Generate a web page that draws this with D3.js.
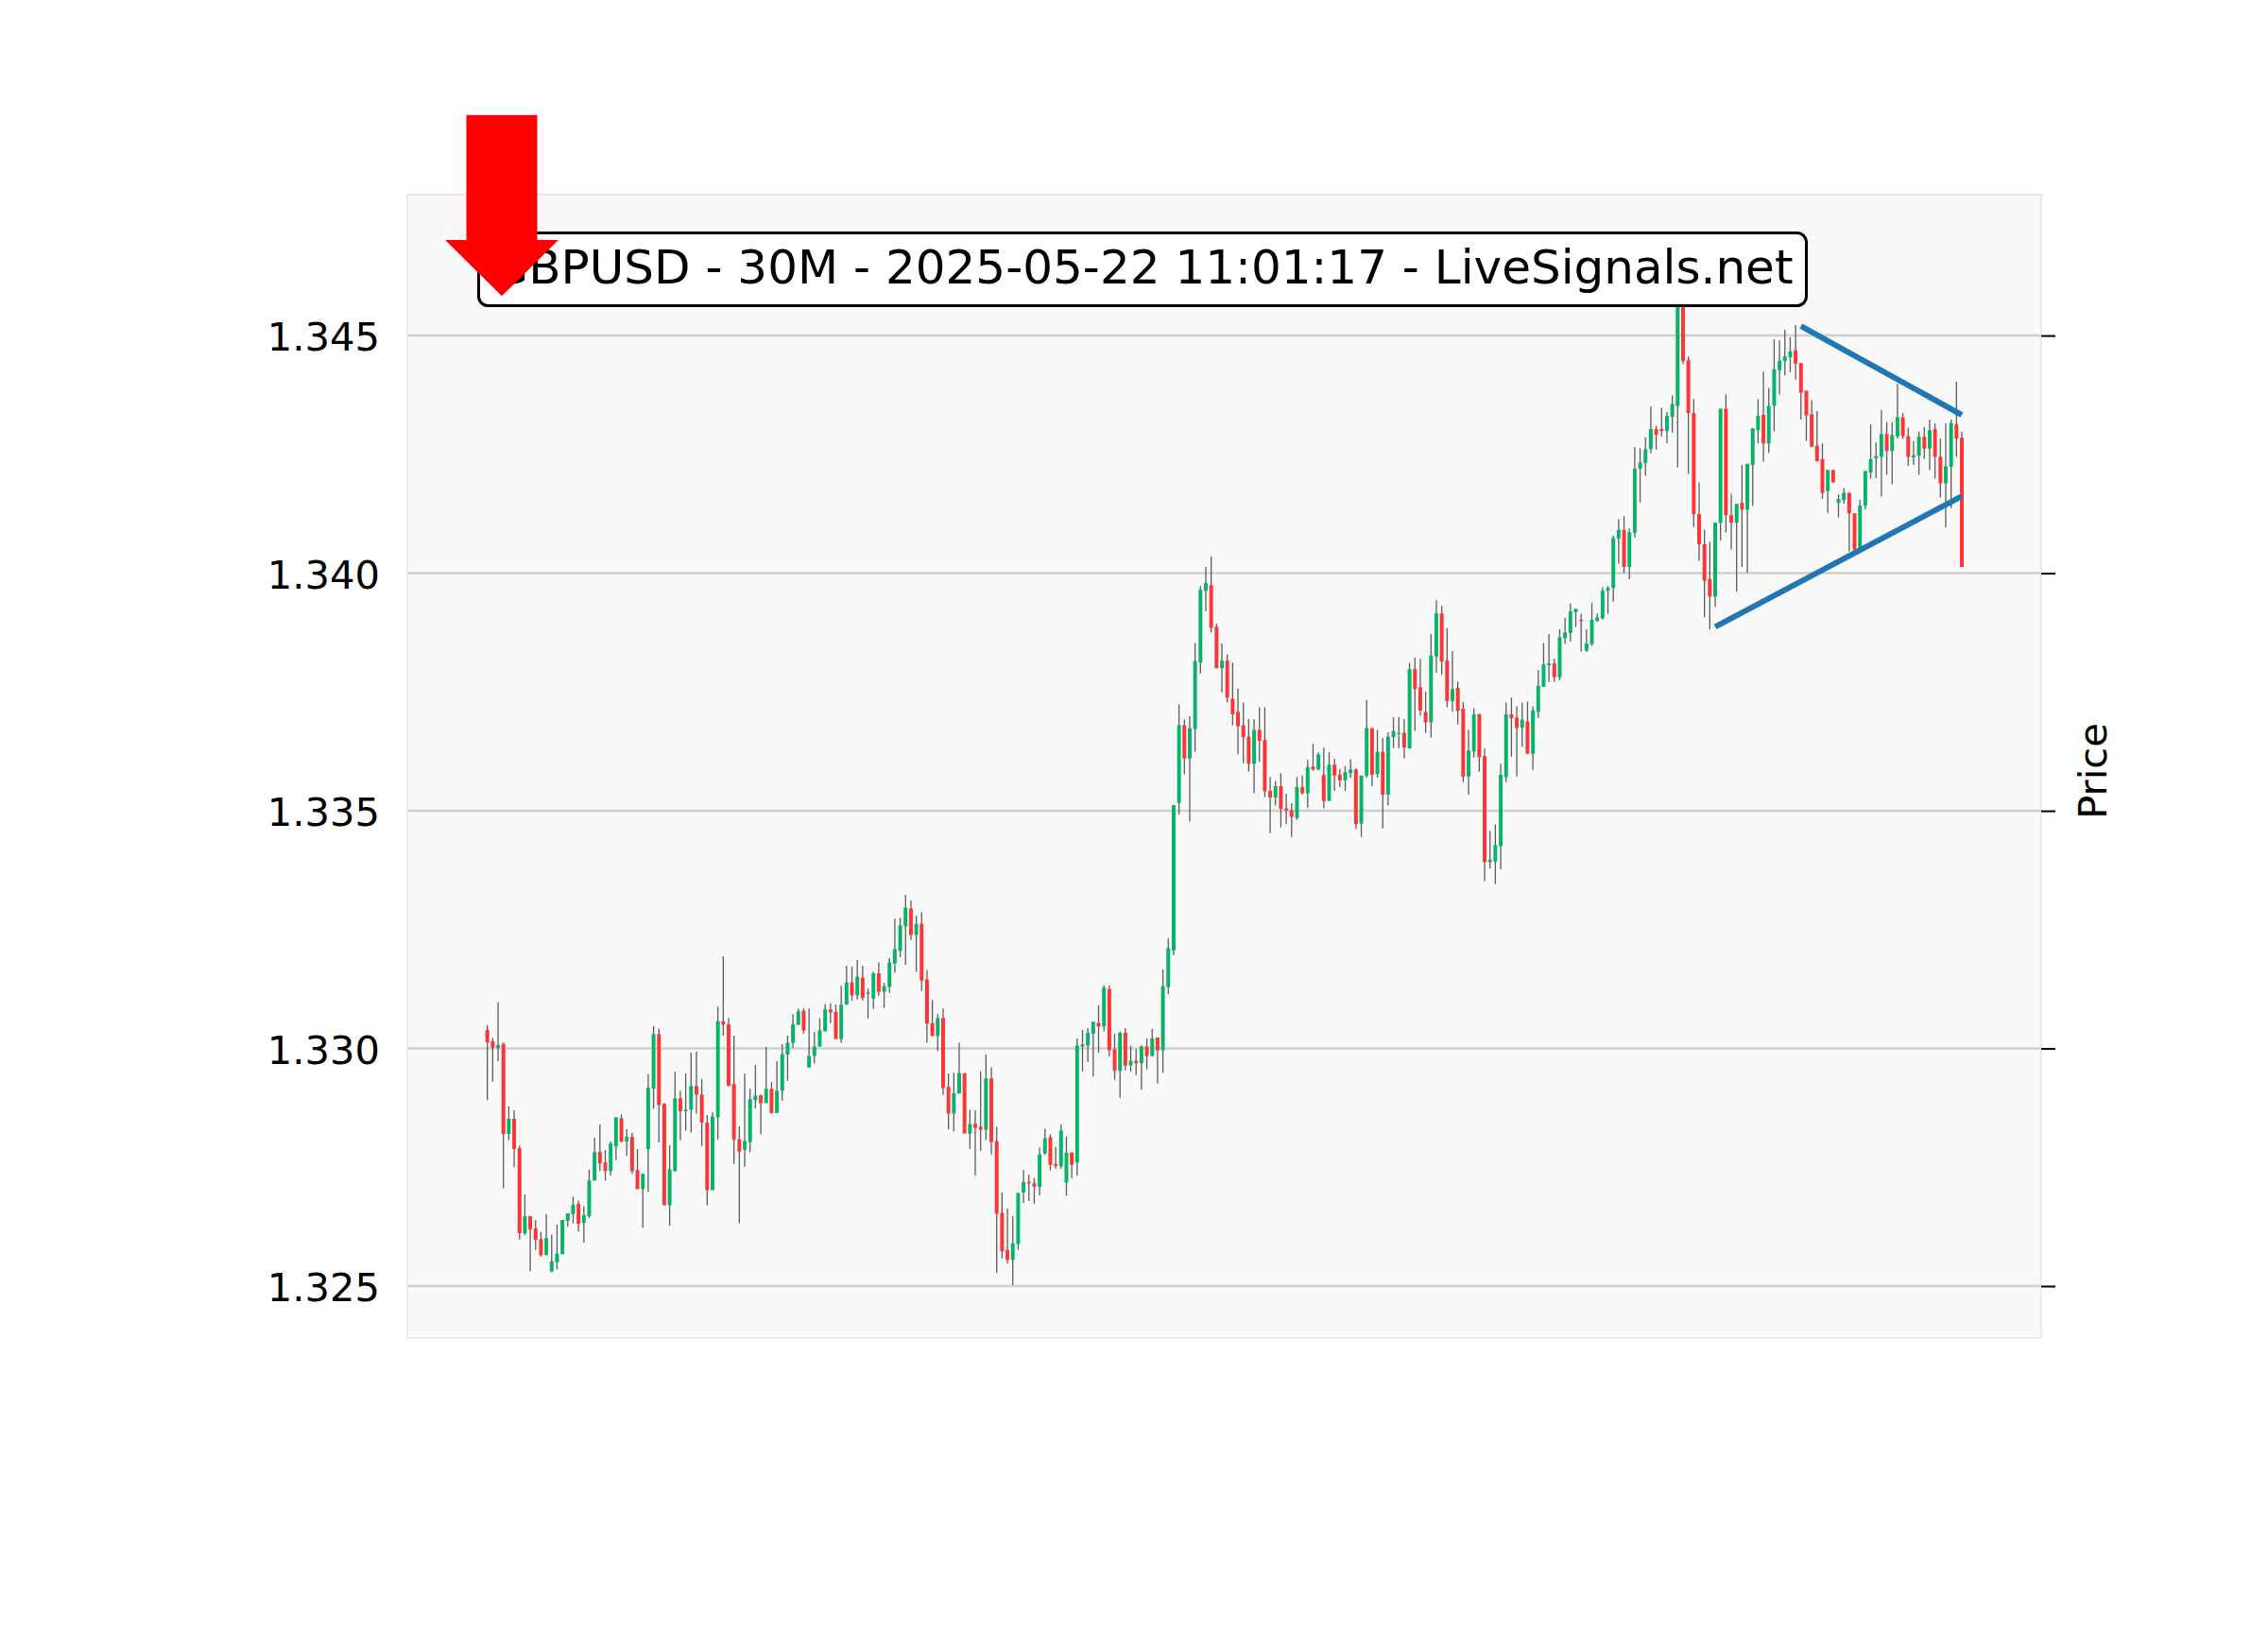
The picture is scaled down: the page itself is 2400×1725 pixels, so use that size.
<!DOCTYPE html>
<html>
<head>
<meta charset="utf-8">
<script src="https://cdn.jsdelivr.net/npm/d3@7/dist/d3.min.js"></script>
<style>
  html, body { margin: 0; padding: 0; background: #ffffff; }
  svg { display: block; }
  text { font-family: "DejaVu Sans", sans-serif; }
</style>
</head>
<body>
<svg id="chart" width="2400" height="1725"></svg>
<script>
// ---------------- DATA ----------------
const titleText = "GBPUSD - 30M - 2025-05-22 11:01:17 - LiveSignals.net";
const yAxisLabel = "Price";
const yTickValues = [1.325, 1.330, 1.335, 1.340, 1.345];
const yTickLabels = ["1.325", "1.330", "1.335", "1.340", "1.345"];

const opens = [
1.33039,1.33015,1.33001,1.33009,1.32820,1.32852,1.32790,1.32611,1.32647,1.32621,
1.32599,1.32565,1.32531,1.32550,1.32567,1.32637,1.32651,1.32673,1.32633,1.32647,
1.32722,1.32782,1.32760,1.32742,1.32794,1.32853,1.32804,1.32814,1.32744,1.32704,
1.32788,1.32915,1.33030,1.32883,1.32670,1.32742,1.32895,1.32868,1.32871,1.32921,
1.32903,1.32844,1.32702,1.32855,1.33057,1.33051,1.32925,1.32809,1.32787,1.32803,
1.32891,1.32901,1.32885,1.32915,1.32864,1.32911,1.32987,1.33012,1.33050,1.33079,
1.32960,1.32984,1.33004,1.33036,1.33082,1.33077,1.33020,1.33093,1.33139,1.33112,
1.33149,1.33115,1.33105,1.33158,1.33119,1.33129,1.33179,1.33205,1.33257,1.33294,
1.33239,1.33262,1.33145,1.33053,1.33026,1.33064,1.32919,1.32863,1.32905,1.32948,
1.32821,1.32841,1.32835,1.32829,1.32937,1.32805,1.32654,1.32576,1.32555,1.32588,
1.32697,1.32719,1.32716,1.32709,1.32779,1.32813,1.32757,1.32752,1.32718,1.32781,
1.32760,1.33004,1.33006,1.33031,1.33054,1.33046,1.33125,1.32998,1.32953,1.33033,
1.32964,1.32974,1.32969,1.33004,1.32984,1.33023,1.32996,1.33129,1.33206,1.33517,
1.33680,1.33610,1.33672,1.33812,1.33963,1.33975,1.33887,1.33800,1.33816,1.33736,
1.33708,1.33680,1.33656,1.33599,1.33670,1.33649,1.33542,1.33528,1.33552,1.33505,
1.33501,1.33485,1.33550,1.33537,1.33593,1.33587,1.33576,1.33521,1.33597,1.33576,
1.33564,1.33579,1.33587,1.33473,1.33574,1.33674,1.33577,1.33624,1.33534,1.33655,
1.33662,1.33664,1.33631,1.33798,1.33760,1.33708,1.33686,1.33825,1.33915,1.33816,
1.33731,1.33758,1.33715,1.33572,1.33625,1.33703,1.33615,1.33392,1.33393,1.33426,
1.33571,1.33703,1.33696,1.33675,1.33688,1.33620,1.33708,1.33761,1.33806,1.33810,
1.33781,1.33863,1.33874,1.33918,1.33902,1.33837,1.33851,1.33900,1.33905,1.33963,
1.33969,1.34073,1.34091,1.34013,1.34085,1.34220,1.34232,1.34261,1.34303,1.34303,
1.34299,1.34329,1.34352,1.34660,1.34448,1.34337,1.34124,1.34061,1.33988,1.33951,
1.34106,1.34346,1.34122,1.34106,1.34148,1.34134,1.34228,1.34301,1.34333,1.34273,
1.34352,1.34427,1.34446,1.34454,1.34469,1.34442,1.34384,1.34334,1.34268,1.34240,
1.34173,1.34217,1.34148,1.34154,1.34169,1.34126,1.34053,1.34142,1.34212,1.34242,
1.34245,1.34293,1.34257,1.34288,1.34328,1.34288,1.34244,1.34247,1.34287,1.34262,
1.34303,1.34245,1.34189,1.34224,1.34313,1.34285
];
const highs = [
1.33049,1.33022,1.33097,1.33013,1.32878,1.32870,1.32796,1.32693,1.32647,1.32639,
1.32614,1.32651,1.32608,1.32629,1.32639,1.32653,1.32688,1.32680,1.32668,1.32745,
1.32812,1.32840,1.32786,1.32804,1.32855,1.32861,1.32830,1.32822,1.32788,1.32736,
1.32946,1.33047,1.33042,1.32885,1.32796,1.32951,1.32911,1.32947,1.32991,1.32993,
1.32935,1.32860,1.32866,1.33088,1.33194,1.33064,1.33027,1.32836,1.32947,1.32915,
1.32965,1.32903,1.33003,1.32929,1.32973,1.33009,1.33027,1.33072,1.33084,1.33084,
1.33084,1.33035,1.33064,1.33093,1.33095,1.33092,1.33132,1.33174,1.33172,1.33186,
1.33174,1.33126,1.33161,1.33181,1.33138,1.33190,1.33273,1.33275,1.33323,1.33311,
1.33279,1.33287,1.33165,1.33102,1.33072,1.33084,1.32947,1.32949,1.33012,1.32948,
1.32871,1.32870,1.32952,1.32987,1.32960,1.32835,1.32697,1.32663,1.32647,1.32696,
1.32744,1.32734,1.32727,1.32792,1.32831,1.32819,1.32793,1.32840,1.32815,1.32781,
1.33021,1.33039,1.33043,1.33056,1.33091,1.33133,1.33133,1.33031,1.33036,1.33043,
1.33006,1.32999,1.33006,1.33021,1.33041,1.33023,1.33166,1.33231,1.33512,1.33724,
1.33692,1.33699,1.33853,1.33973,1.34013,1.34035,1.33894,1.33852,1.33829,1.33812,
1.33757,1.33728,1.33693,1.33693,1.33718,1.33718,1.33571,1.33562,1.33579,1.33536,
1.33516,1.33571,1.33574,1.33607,1.33641,1.33623,1.33633,1.33623,1.33609,1.33587,
1.33594,1.33609,1.33589,1.33574,1.33733,1.33674,1.33670,1.33653,1.33665,1.33697,
1.33697,1.33693,1.33811,1.33822,1.33819,1.33751,1.33872,1.33943,1.33931,1.33884,
1.33836,1.33772,1.33729,1.33670,1.33716,1.33705,1.33631,1.33458,1.33471,1.33599,
1.33728,1.33738,1.33720,1.33728,1.33730,1.33720,1.33796,1.33852,1.33872,1.33820,
1.33882,1.33906,1.33936,1.33925,1.33914,1.33882,1.33937,1.33915,1.33971,1.33973,
1.34079,1.34114,1.34120,1.34094,1.34265,1.34263,1.34286,1.34351,1.34310,1.34348,
1.34339,1.34374,1.34680,1.34670,1.34456,1.34366,1.34191,1.34091,1.34066,1.34106,
1.34346,1.34376,1.34167,1.34146,1.34228,1.34230,1.34305,1.34366,1.34424,1.34390,
1.34492,1.34490,1.34512,1.34496,1.34522,1.34442,1.34384,1.34364,1.34341,1.34273,
1.34217,1.34217,1.34166,1.34179,1.34169,1.34126,1.34154,1.34215,1.34313,1.34275,
1.34343,1.34318,1.34318,1.34399,1.34337,1.34306,1.34278,1.34298,1.34308,1.34323,
1.34315,1.34283,1.34315,1.34323,1.34403,1.34298
];
const lows = [
1.32891,1.32930,1.32973,1.32706,1.32807,1.32750,1.32598,1.32607,1.32531,1.32576,
1.32562,1.32565,1.32529,1.32535,1.32567,1.32625,1.32632,1.32615,1.32591,1.32643,
1.32722,1.32742,1.32722,1.32732,1.32765,1.32802,1.32774,1.32736,1.32704,1.32623,
1.32698,1.32873,1.32802,1.32670,1.32627,1.32740,1.32807,1.32827,1.32823,1.32863,
1.32795,1.32670,1.32702,1.32808,1.33027,1.32921,1.32757,1.32632,1.32751,1.32782,
1.32874,1.32819,1.32885,1.32863,1.32864,1.32890,1.32932,1.33001,1.33050,1.33031,
1.32960,1.32968,1.33004,1.33036,1.33053,1.33020,1.33012,1.33091,1.33101,1.33103,
1.33101,1.33063,1.33083,1.33111,1.33085,1.33117,1.33159,1.33192,1.33176,1.33228,
1.33161,1.33121,1.33012,1.33026,1.32994,1.32902,1.32830,1.32825,1.32905,1.32821,
1.32789,1.32732,1.32785,1.32807,1.32777,1.32528,1.32558,1.32547,1.32502,1.32576,
1.32675,1.32679,1.32673,1.32691,1.32776,1.32743,1.32747,1.32747,1.32690,1.32727,
1.32732,1.32951,1.32971,1.32941,1.32991,1.33036,1.32983,1.32934,1.32896,1.32954,
1.32951,1.32944,1.32913,1.32956,1.32984,1.32926,1.32949,1.33114,1.33196,1.33492,
1.33577,1.33477,1.33624,1.33789,1.33920,1.33875,1.33800,1.33749,1.33728,1.33680,
1.33619,1.33600,1.33582,1.33537,1.33603,1.33529,1.33453,1.33511,1.33465,1.33472,
1.33445,1.33481,1.33534,1.33506,1.33584,1.33585,1.33505,1.33521,1.33542,1.33550,
1.33542,1.33569,1.33462,1.33445,1.33569,1.33552,1.33570,1.33463,1.33511,1.33632,
1.33632,1.33610,1.33631,1.33668,1.33700,1.33664,1.33654,1.33791,1.33786,1.33718,
1.33709,1.33682,1.33560,1.33534,1.33612,1.33582,1.33352,1.33379,1.33346,1.33377,
1.33560,1.33614,1.33572,1.33635,1.33620,1.33586,1.33695,1.33761,1.33771,1.33771,
1.33774,1.33851,1.33856,1.33887,1.33835,1.33834,1.33847,1.33897,1.33902,1.33914,
1.33940,1.34020,1.34000,1.33987,1.34075,1.34149,1.34205,1.34252,1.34260,1.34288,
1.34273,1.34296,1.34223,1.34440,1.34209,1.34097,1.34026,1.33907,1.33882,1.33929,
1.34069,1.34086,1.34050,1.33961,1.34013,1.34001,1.34142,1.34273,1.34235,1.34253,
1.34298,1.34376,1.34416,1.34423,1.34407,1.34323,1.34278,1.34265,1.34235,1.34156,
1.34127,1.34191,1.34117,1.34146,1.34046,1.34048,1.34053,1.34134,1.34199,1.34200,
1.34161,1.34207,1.34187,1.34283,1.34282,1.34226,1.34228,1.34207,1.34240,1.34217,
1.34199,1.34159,1.34096,1.34137,1.34245,1.34013
];
const closes = [
1.33013,1.33001,1.33007,1.32820,1.32852,1.32788,1.32611,1.32647,1.32619,1.32597,
1.32565,1.32601,1.32552,1.32568,1.32639,1.32653,1.32671,1.32631,1.32649,1.32722,
1.32782,1.32758,1.32742,1.32800,1.32855,1.32804,1.32814,1.32742,1.32704,1.32736,
1.32917,1.33030,1.32881,1.32670,1.32746,1.32895,1.32868,1.32871,1.32921,1.32903,
1.32844,1.32702,1.32857,1.33057,1.33050,1.32921,1.32808,1.32783,1.32805,1.32893,
1.32901,1.32885,1.32915,1.32864,1.32911,1.32988,1.33012,1.33051,1.33078,1.33038,
1.32984,1.33004,1.33038,1.33082,1.33076,1.33020,1.33092,1.33139,1.33112,1.33151,
1.33106,1.33118,1.33158,1.33119,1.33131,1.33181,1.33209,1.33259,1.33296,1.33239,
1.33262,1.33143,1.33052,1.33026,1.33064,1.32917,1.32863,1.32906,1.32948,1.32821,
1.32841,1.32833,1.32829,1.32937,1.32803,1.32652,1.32573,1.32555,1.32590,1.32696,
1.32719,1.32716,1.32709,1.32777,1.32811,1.32755,1.32753,1.32827,1.32781,1.32755,
1.33006,1.33008,1.33033,1.33056,1.33046,1.33128,1.32996,1.32953,1.33033,1.32964,
1.32974,1.32969,1.33004,1.32984,1.33021,1.32996,1.33131,1.33211,1.33512,1.33680,
1.33610,1.33674,1.33815,1.33965,1.33979,1.33885,1.33800,1.33816,1.33738,1.33703,
1.33678,1.33655,1.33599,1.33670,1.33647,1.33541,1.33528,1.33552,1.33504,1.33501,
1.33487,1.33550,1.33537,1.33592,1.33587,1.33618,1.33521,1.33597,1.33574,1.33564,
1.33581,1.33587,1.33472,1.33574,1.33674,1.33576,1.33624,1.33534,1.33656,1.33668,
1.33664,1.33633,1.33798,1.33756,1.33711,1.33686,1.33827,1.33915,1.33814,1.33731,
1.33756,1.33710,1.33572,1.33627,1.33703,1.33613,1.33392,1.33397,1.33428,1.33576,
1.33703,1.33695,1.33674,1.33692,1.33620,1.33711,1.33763,1.33808,1.33810,1.33781,
1.33865,1.33875,1.33920,1.33925,1.33899,1.33852,1.33902,1.33907,1.33963,1.33969,
1.34074,1.34091,1.34013,1.34086,1.34220,1.34233,1.34261,1.34303,1.34291,1.34299,
1.34331,1.34356,1.34660,1.34446,1.34337,1.34124,1.34061,1.33984,1.33951,1.34106,
1.34346,1.34122,1.34106,1.34146,1.34134,1.34230,1.34305,1.34331,1.34273,1.34352,
1.34429,1.34447,1.34456,1.34467,1.34441,1.34380,1.34332,1.34266,1.34236,1.34169,
1.34217,1.34191,1.34156,1.34169,1.34126,1.34049,1.34142,1.34215,1.34240,1.34246,
1.34293,1.34257,1.34291,1.34328,1.34288,1.34245,1.34248,1.34287,1.34262,1.34301,
1.34245,1.34189,1.34225,1.34316,1.34283,1.34013
];
// trend lines: [startIndex, startPrice, endIndex, endPrice]
const upperTrend = [245, 1.34520, 275, 1.34333];
const lowerTrend = [229, 1.33887, 275, 1.34162];
// signal arrow (pointing down): candle index and prices of tail top, head base, tip
const arrowSignal = { index: 2.7, top: 1.34964, headBase: 1.34701, tip: 1.34583 };

// ---------------- LAYOUT ----------------
const svg = d3.select("#chart");
const plot = { left: 431, right: 2160, top: 206, bottom: 1416 };
const n = opens.length;

const x = d3.scaleLinear().domain([0, n - 1]).range([515.7, 2076]);
const y = d3.scaleLinear().domain([1.325, 1.345]).range([1361, 355.1]);

const upColor = "#06b469";
const downColor = "#ff3434";
const wickColor = "#5c5c5c";

// plot background
svg.append("rect")
  .attr("x", plot.left).attr("y", plot.top)
  .attr("width", plot.right - plot.left).attr("height", plot.bottom - plot.top)
  .attr("fill", "#f9f9f9").attr("stroke", "#e9e9e9").attr("stroke-width", 2);

// grid lines
svg.append("g").selectAll("line").data(yTickValues).join("line")
  .attr("x1", plot.left + 1).attr("x2", plot.right - 1)
  .attr("y1", d => y(d)).attr("y2", d => y(d))
  .attr("stroke", "#d0d0d0").attr("stroke-width", 2.5);

// right axis ticks (marks only)
const rightAxis = d3.axisRight(y).tickValues(yTickValues).tickSize(15).tickFormat("");
const ra = svg.append("g").attr("transform", `translate(${plot.right},0)`).call(rightAxis);
ra.select(".domain").remove();
ra.selectAll(".tick line").attr("stroke", "#000").attr("stroke-width", 2);

// left tick labels
svg.append("g").selectAll("text").data(yTickValues).join("text")
  .attr("x", 402).attr("y", d => y(d) + 16)
  .attr("text-anchor", "end")
  .attr("font-size", "41.67px").attr("fill", "#000")
  .text((d, i) => yTickLabels[i]);

// y-axis label
svg.append("text")
  .attr("transform", `translate(2229, ${(y(1.325) + y(1.345)) / 2 - 42}) rotate(-90)`)
  .attr("text-anchor", "middle")
  .attr("font-size", "41.67px").attr("fill", "#000")
  .text(yAxisLabel);

// candles
const idx = d3.range(n);
const step = x(1) - x(0);
const bodyW = step * 0.7;
const cg = svg.append("g");
cg.selectAll("line.wick").data(idx).join("line").attr("class", "wick")
  .attr("x1", i => x(i)).attr("x2", i => x(i))
  .attr("y1", i => y(highs[i])).attr("y2", i => y(lows[i]))
  .attr("stroke", wickColor).attr("stroke-width", 1.3);
cg.selectAll("rect.body").data(idx).join("rect").attr("class", "body")
  .attr("x", i => x(i) - bodyW / 2)
  .attr("width", bodyW)
  .attr("y", i => y(Math.max(opens[i], closes[i])))
  .attr("height", i => Math.max(1.2, Math.abs(y(opens[i]) - y(closes[i]))))
  .attr("fill", i => closes[i] >= opens[i] ? upColor : downColor);

// trend lines
[upperTrend, lowerTrend].forEach(t => {
  svg.append("line")
    .attr("x1", x(t[0])).attr("y1", y(t[1]))
    .attr("x2", x(t[2])).attr("y2", y(t[3]))
    .attr("stroke", "#1f77b4").attr("stroke-width", 6);
});

// title box
const titleG = svg.append("g");
const titleCx = 1209;
titleG.append("rect")
  .attr("x", 506.5).attr("y", 246.5).attr("width", 1405).attr("height", 77)
  .attr("rx", 10).attr("ry", 10)
  .attr("fill", "#ffffff").attr("stroke", "#000").attr("stroke-width", 3);
titleG.append("text")
  .attr("x", titleCx).attr("y", 300)
  .attr("text-anchor", "middle")
  .attr("font-size", "50px").attr("fill", "#000")
  .text(titleText);

// red arrow
const ax = x(arrowSignal.index);
const tailHalf = 37.5, headHalf = 60;
const arrowPts = [
  [ax - tailHalf, y(arrowSignal.top)], [ax + tailHalf, y(arrowSignal.top)],
  [ax + tailHalf, y(arrowSignal.headBase)], [ax + headHalf, y(arrowSignal.headBase)],
  [ax, y(arrowSignal.tip)], [ax - headHalf, y(arrowSignal.headBase)],
  [ax - tailHalf, y(arrowSignal.headBase)]
];
svg.append("polygon")
  .attr("points", arrowPts.map(p => p.join(",")).join(" "))
  .attr("fill", "#ff0000");
</script>
</body>
</html>
